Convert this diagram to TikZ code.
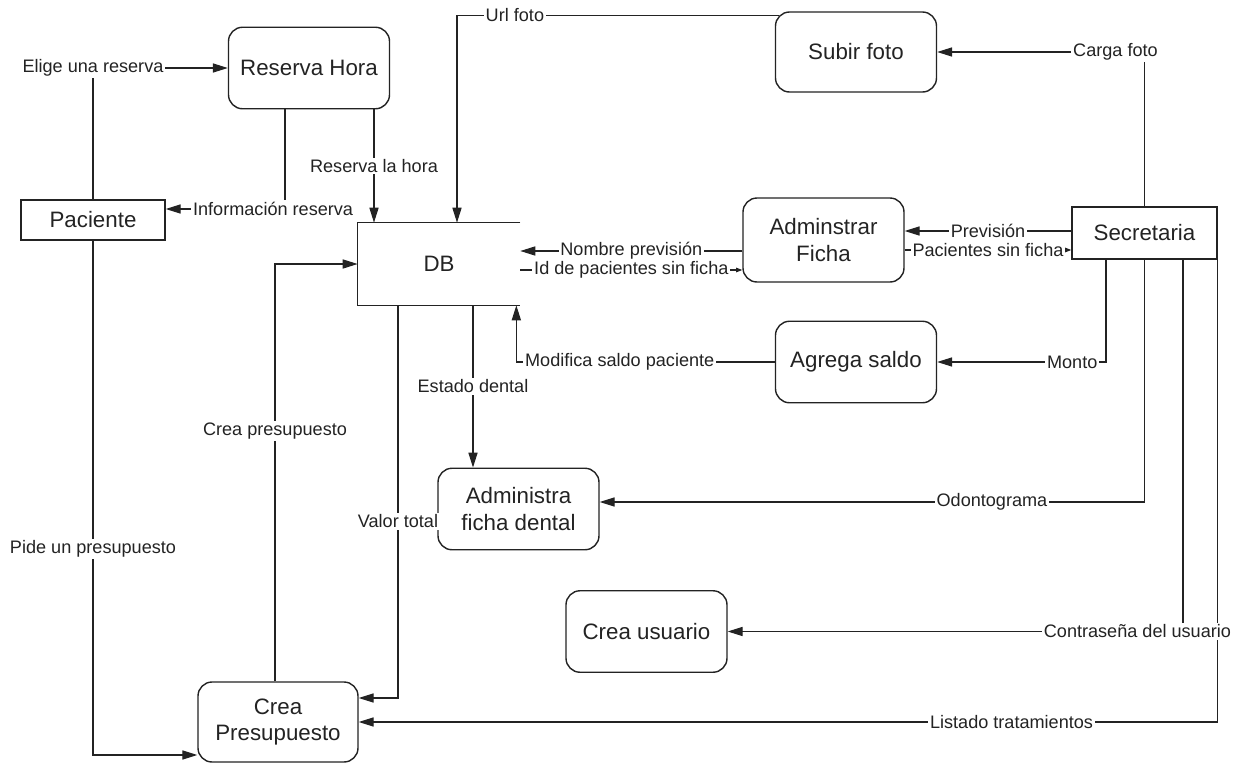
\documentclass[tikz,border=0pt]{standalone}
\usepackage{fontspec}
\setmainfont{Liberation Sans}
\usetikzlibrary{arrows.meta}
\definecolor{ink}{RGB}{35,35,35}

\begin{document}
\begin{tikzpicture}[scale=0.2]
            \tikzstyle{every node}+=[inner sep=0pt, text=ink]
            \tikzstyle{proc}=[draw=ink, line width=0.8pt, rounded corners=8pt, minimum width=3.22cm, minimum height=1.63cm, align=center, font=\fontsize{12.7}{15.3}\selectfont]
            \tikzstyle{ent}=[draw=ink, line width=0.8pt, font=\fontsize{12.7}{15.3}\selectfont]
            \tikzstyle{flow}=[draw=ink, line width=0.6pt, -{Triangle[length=8.5pt,width=5.2pt]}]
            \tikzstyle{tiny}=[draw=ink, line width=0.6pt, -{Triangle[length=3.5pt,width=2.6pt]}]
            \tikzstyle{lbl}=[fill=white, inner sep=1pt, font=\fontsize{10.3}{12}\selectfont]
            \useasboundingbox (0,0) rectangle (124.8,-76.4);
            % processes and entities
            \node [proc] (reserva) at (30.9,-6.8) {Reserva Hora};
            \node [ent, minimum width=2.88cm, minimum height=0.8cm] (paciente) at (9.3,-22.0) {Paciente};
            \node [minimum width=3.24cm, minimum height=1.64cm, font=\fontsize{12.7}{15.3}\selectfont] (db) at (43.9,-26.4) {DB};
            \draw [ink, line width=0.8pt] (db.north east) -- (db.north west) -- (db.south west) -- (db.south east);
            \node [proc, minimum height=1.6cm] (subir) at (85.6,-5.2) {Subir foto};
            \node [proc, minimum height=1.68cm] (ficha) at (82.35,-24.0) {Adminstrar\\Ficha};
            \node [ent, minimum width=2.9cm, minimum height=1.04cm] (secretaria) at (114.45,-23.3) {Secretaria};
            \node [proc] (agrega) at (85.6,-36.2) {Agrega saldo};
            \node [proc] (dental) at (51.85,-50.9) {Administra\\ficha dental};
            \node [proc] (usuario) at (64.65,-63.15) {Crea usuario};
            \node [proc, minimum width=3.2cm, minimum height=1.6cm] (presup) at (27.8,-72.2) {Crea\\Presupuesto};
            % flows (shifts are in picture units)
            \draw [flow] (paciente.north) |- node [lbl] {Elige una reserva} (reserva.west);
            \draw [flow] ([xshift=-2.4cm]reserva.south) |- node [lbl, pos=0.55] {Información reserva} ([yshift=1.1cm]paciente.east);
            \draw [flow] ([xshift=6.5cm]reserva.south) -- node [lbl] {Reserva la hora} ([xshift=6.5cm]reserva.south |- db.north);
            \draw [flow] ([xshift=0.4cm,yshift=-0.4cm]subir.north west) -| node [lbl, pos=0.41] {Url foto} ([xshift=1.8cm]db.north);
            \draw [flow] (secretaria.north) |- node [lbl, pos=0.57] {Carga foto} (subir.east);
            \draw [flow] ([yshift=0.2cm]secretaria.west) -- node [lbl] {Previsión} ([yshift=0.2cm]secretaria.west -| ficha.east);
            \draw [tiny] ([yshift=-1.0cm]ficha.east) -- node [lbl] {Pacientes sin ficha} ([yshift=-1.0cm]ficha.east -| secretaria.west);
            \draw [flow] ([yshift=-1.1cm]ficha.west) -- node [lbl] {Nombre previsión} ([yshift=-1.1cm]ficha.west -| db.east);
            \draw [tiny] ([yshift=-3.0cm]ficha.west -| db.east) -- node [lbl] {Id de pacientes sin ficha} ([yshift=-3.0cm]ficha.west);
            \draw [flow] (agrega.west) -| node [lbl, pos=0.3] {Modifica saldo paciente} ([xshift=-0.4cm]db.south east);
            \draw [flow] ([xshift=-3.85cm]secretaria.south) |- node [lbl, pos=0.6] {Monto} (agrega.east);
            \draw [flow] (secretaria.south) |- node [lbl, pos=0.64] {Odontograma} ([yshift=0.7cm]dental.east);
            \draw [flow] (secretaria.south east) |- node [lbl, pos=0.62] {Listado tratamientos} (presup.east);
            \draw [flow] ([xshift=3.85cm]secretaria.south) |- node [lbl, pos=0.55] {Contraseña del usuario} (usuario.east);
            \draw [flow] ([xshift=-4.1cm]db.south) |- node [lbl, pos=0.275] {Valor total} ([yshift=2.4cm]presup.east);
            \draw [flow] ([xshift=3.4cm]db.south) -- node [lbl] {Estado dental} ([xshift=3.4cm]db.south |- dental.north);
            \draw [flow] ([xshift=-0.3cm]presup.north) |- node [lbl, pos=0.3] {Crea presupuesto} (db.west);
            \draw [flow] (paciente.south) |- node [lbl, pos=0.3] {Pide un presupuesto} ([yshift=-3.3cm]presup.west);
          \end{tikzpicture}
\end{document}
